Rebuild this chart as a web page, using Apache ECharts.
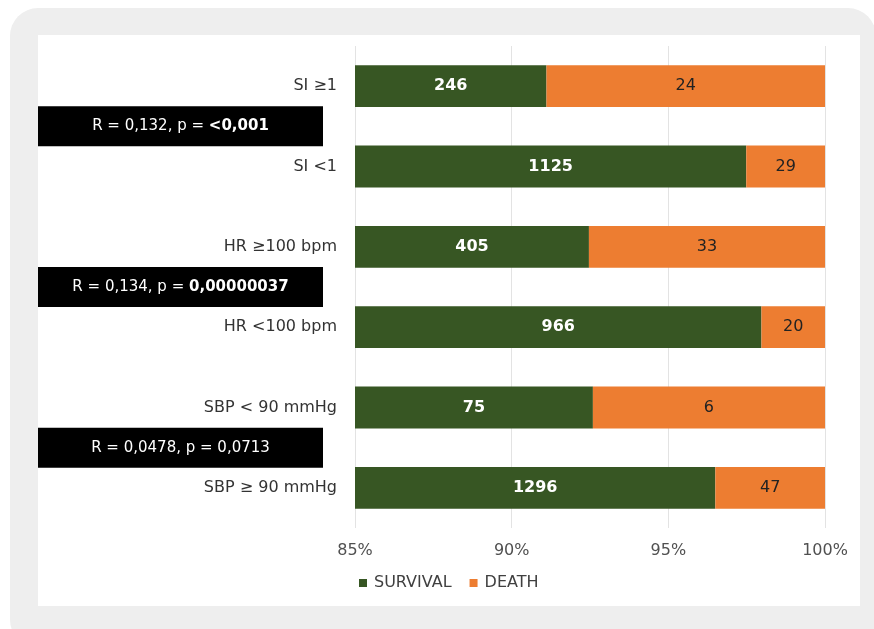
<!DOCTYPE html>
<html>
<head>
<meta charset="utf-8">
<script src="https://cdn.jsdelivr.net/npm/echarts@6/dist/echarts.min.js"></script>
<style>
  html, body { margin: 0; padding: 0; background: #ffffff; overflow: hidden; }
  #frame { position: absolute; left: 10px; top: 8px; width: 866px; height: 640px; background: #eeeeee; border-radius: 28px; }
  #panel { position: absolute; left: 38px; top: 35px; width: 822px; height: 571px; background: #ffffff; }
  #chart { position: absolute; left: 0; top: 0; width: 874px; height: 629px; }
</style>
</head>
<body>
<div id="frame"></div>
<div id="panel"></div>
<div id="chart"></div>
<script>
// Groups, listed bottom to top (category axis runs upward)
const categories = ['SBP \u2265 90 mmHg', 'SBP < 90 mmHg', 'HR <100 bpm', 'HR \u2265100 bpm', 'SI <1', 'SI \u22651'];
const survival = [1296, 75, 966, 405, 1125, 246];
const death = [47, 6, 20, 33, 29, 24];
const xTicks = [85, 90, 95, 100];

// Correlation notes placed between each pair of bars
const notes = [
  { plain: 'R = 0,132, p = ', bold: '<0,001', between: ['SI \u22651', 'SI <1'] },
  { plain: 'R = 0,134, p = ', bold: '0,00000037', between: ['HR \u2265100 bpm', 'HR <100 bpm'] },
  { plain: 'R = 0,0478, p = 0,0713', bold: '', between: ['SBP < 90 mmHg', 'SBP \u2265 90 mmHg'] }
];

const FONT = 'DejaVu Sans';

// Each bar shows the share of its group total; labels show raw counts
const totals = survival.map((s, i) => s + death[i]);
const survShare = survival.map((s, i) => ({ value: s / totals[i] * 100, count: s }));
const deathShare = death.map((d, i) => ({ value: d / totals[i] * 100, count: d }));

const chart = echarts.init(document.getElementById('chart'), null, { renderer: 'canvas' });

const option = {
  backgroundColor: 'transparent',
  animation: false,
  grid: { left: 355, right: 49, top: 46, bottom: 101, containLabel: false },
  legend: {
    bottom: 33,
    left: 354,
    itemWidth: 8,
    itemHeight: 8,
    itemGap: 18,
    icon: 'rect',
    textStyle: { fontFamily: FONT, fontSize: 16, color: '#404040', padding: [0, 0, 0, 2] },
    data: ['SURVIVAL', 'DEATH']
  },
  xAxis: {
    type: 'value',
    min: xTicks[0],
    max: xTicks[xTicks.length - 1],
    interval: 5,
    axisLine: { show: false },
    axisTick: { show: false },
    splitLine: { show: true, lineStyle: { color: '#e3e3e3', width: 1 } },
    axisLabel: {
      formatter: v => v + '%',
      fontFamily: FONT, fontSize: 16, color: '#505050', margin: 15
    }
  },
  yAxis: {
    type: 'category',
    data: categories,
    axisLine: { show: false },
    axisTick: { show: false },
    axisLabel: { fontFamily: FONT, fontSize: 16, color: '#333333', margin: 18 }
  },
  series: [
    {
      name: 'SURVIVAL',
      type: 'bar',
      stack: 'share',
      barCategoryGap: '48%',
      itemStyle: { color: '#375623' },
      label: {
        show: true, position: 'inside', formatter: p => p.data.count,
        color: '#ffffff', fontWeight: 'bold', fontFamily: FONT, fontSize: 16
      },
      data: survShare
    },
    {
      name: 'DEATH',
      type: 'bar',
      stack: 'share',
      itemStyle: { color: '#ED7D31' },
      label: {
        show: true, position: 'inside', formatter: p => p.data.count,
        color: '#222222', fontFamily: FONT, fontSize: 16
      },
      data: deathShare
    }
  ]
};

chart.setOption(option);

// Black note boxes, centred vertically between the two bars they refer to
function drawNotes() {
  const elems = notes.map(n => {
    const y1 = chart.convertToPixel({ yAxisIndex: 0 }, n.between[0]);
    const y2 = chart.convertToPixel({ yAxisIndex: 0 }, n.between[1]);
    const cy = (y1 + y2) / 2;
    const boxH = 40, left = 38, width = 285;
    return {
      type: 'group',
      children: [
        { type: 'rect', shape: { x: left, y: cy - boxH / 2, width: width, height: boxH }, style: { fill: '#000000' } },
        {
          type: 'text',
          x: left + width / 2,
          y: cy,
          style: {
            text: '{n|' + n.plain + '}' + (n.bold ? '{b|' + n.bold + '}' : ''),
            align: 'center',
            verticalAlign: 'middle',
            rich: {
              n: { fill: '#ffffff', fontFamily: FONT, fontSize: 15 },
              b: { fill: '#ffffff', fontFamily: FONT, fontSize: 15, fontWeight: 'bold' }
            }
          }
        }
      ]
    };
  });
  chart.setOption({ graphic: elems });
}
drawNotes();
</script>
</body>
</html>
